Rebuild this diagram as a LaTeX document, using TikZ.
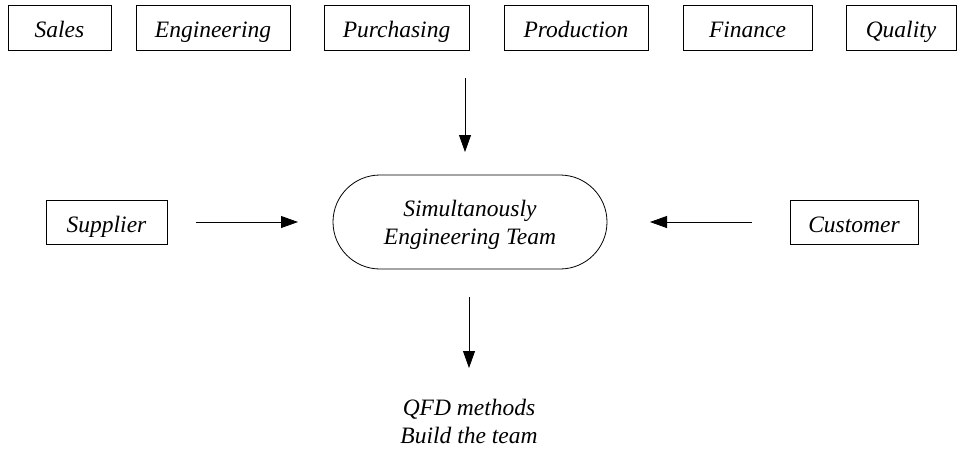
\documentclass[tikz,border=0pt]{standalone}
\usepackage{fontspec}
\setmainfont{Liberation Serif}
\usetikzlibrary{arrows.meta}
\begin{document}
\begin{tikzpicture}[x=1pt,y=-1pt,
  font=\fontsize{23.5}{28}\selectfont\itshape,
  dept/.style={draw, line width=0.8pt, minimum height=45pt, inner sep=0pt,
    text height=22pt, text depth=2pt},
  side/.style={draw, line width=0.8pt, minimum height=44pt, inner sep=0pt,
    text height=22pt, text depth=2pt},
  team/.style={draw, line width=0.8pt, minimum width=274pt, minimum height=94pt,
    rounded corners=47pt, inner sep=0pt},
  caption/.style={align=center, inner sep=0pt},
  flow/.style={line width=0.8pt, -{Triangle[length=17pt,width=12pt]}}]
\useasboundingbox (0,0) rectangle (960,451);
% departments along the top
\node[dept, minimum width=103pt] (sales) at (59.5,27.5) {Sales};
\node[dept, minimum width=154pt] (eng) at (213,27.5) {Engineering};
\node[dept, minimum width=145pt] (purch) at (396.5,27.5) {Purchasing};
\node[dept, minimum width=144pt] (prod) at (576,27.5) {Production};
\node[dept, minimum width=129pt] (fin) at (747.5,27.5) {Finance};
\node[dept, minimum width=110pt] (qual) at (901,27.5) {Quality};
% central team
\node[team] (team) at (470,222) {};
\node[caption] (teamtext) at (470,224.5) {Simultanously\\Engineering Team};
\node[side, minimum width=121pt] (supp) at (106.5,222) {Supplier};
\node[side, minimum width=128pt] (cust) at (854,222) {Customer};
% outcome
\node[caption] (out) at (469,421) {QFD methods\\Build the team};
% arrow end points
\coordinate (topA) at (465,78);
\coordinate (topB) at (465,152);
\coordinate (supA) at (196,222);
\coordinate (supB) at (298,222);
\coordinate (cusA) at (752,222);
\coordinate (cusB) at (650,222);
\coordinate (botA) at (469,297);
\coordinate (botB) at (469,368);
\draw[flow] (topA) -- (topB);
\draw[flow] (supA) -- (supB);
\draw[flow] (cusA) -- (cusB);
\draw[flow] (botA) -- (botB);
\end{tikzpicture}
\end{document}
